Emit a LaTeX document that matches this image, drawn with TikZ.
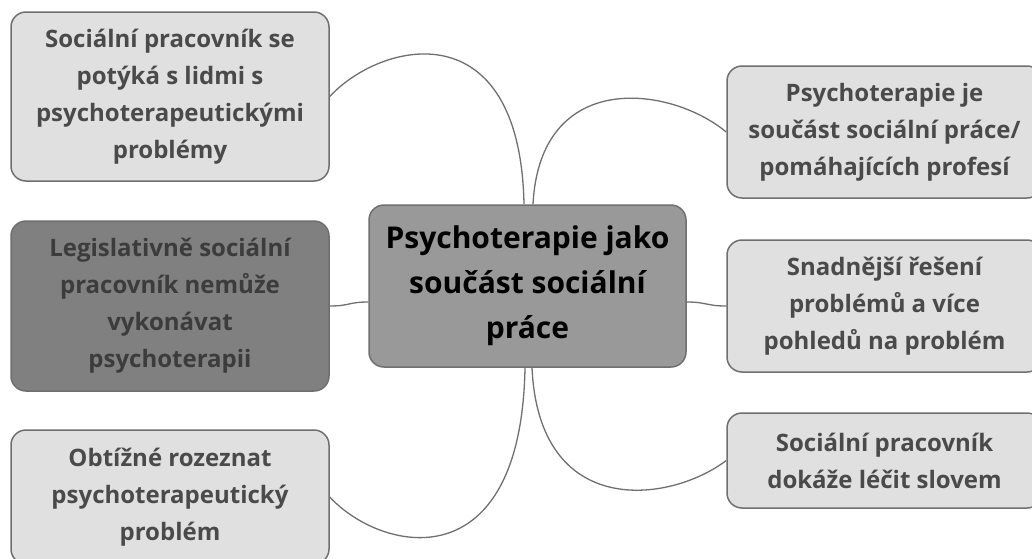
\documentclass[tikz,border=0pt]{standalone}
\usepackage{fontspec}
\setmainfont{Open Sans}
\definecolor{bordc}{HTML}{6F6F6F}
\definecolor{linec}{HTML}{6F6F6F}
\definecolor{lightf}{HTML}{E0E0E0}
\definecolor{darkf}{HTML}{808080}
\definecolor{centf}{HTML}{999999}
\definecolor{txtc}{HTML}{4A4A4A}
\definecolor{darktxt}{HTML}{3C3C3C}
\begin{document}
\begin{tikzpicture}[x=1pt,y=-1pt,
  box/.style={draw=bordc, line width=1.5pt, rounded corners=15pt, fill=lightf, text=txtc,
    align=center, font=\fontsize{24}{37}\selectfont\bfseries, inner sep=0pt},
  darkbox/.style={box, fill=darkf, text=darktxt},
  centbox/.style={box, fill=centf, text=black, font=\fontsize{30}{45}\selectfont\bfseries},
  link/.style={draw=linec, line width=1.3pt}]
\useasboundingbox (0,0) rectangle (1032,558);
\node[box, minimum width=318pt, minimum height=169pt] (a) at (170,96.5)
  {Sociální pracovník se\\potýká s lidmi s\\psychoterapeutickými\\problémy};
\node[darkbox, minimum width=318pt, minimum height=170pt] (b) at (170,306)
  {Legislativně sociální\\pracovník nemůže\\vykonávat\\psychoterapii};
\node[box, minimum width=318pt, minimum height=134pt] (d) at (170,497)
  {Obtížné rozeznat\\psychoterapeutický\\problém};
\node[centbox, minimum width=317pt, minimum height=162pt] (c) at (527.5,286)
  {Psychoterapie jako\\součást sociální\\práce};
\node[box, minimum width=315pt, minimum height=132pt] (r1) at (884.5,132)
  {Psychoterapie je\\součást sociální práce/\\pomáhajících profesí};
\node[box, minimum width=315pt, minimum height=132pt] (r2) at (884.5,306)
  {Snadnější řešení\\problémů a více\\pohledů na problém};
\node[box, minimum width=315pt, minimum height=95pt] (r3) at (884.5,460.5)
  {Sociální pracovník\\dokáže léčit slovem};
% connectors
\coordinate (ct1) at ([xshift=-3.5pt]c.north);
\coordinate (ct2) at ([xshift=5.5pt]c.north);
\coordinate (cb1) at ([xshift=-2.5pt]c.south);
\coordinate (cb2) at ([xshift=4.5pt]c.south);
\coordinate (cw) at ([yshift=-16pt]c.west);
\coordinate (ce) at ([yshift=-16pt]c.east);
\draw[link] (a.east) .. controls +(52,-56) and +(-4,-195) .. (ct1);
\draw[link] (ct2) .. controls +(7,-135) and +(-57,-47) .. (r1.west);
\draw[link] (b.east) .. controls +(20,0) and +(-20,0) .. (cw);
\draw[link] (ce) .. controls +(20,0) and +(-20,0) .. (r2.west);
\draw[link] (d.east) .. controls +(52,56) and +(-4,215) .. (cb1);
\draw[link] (cb2) .. controls +(7,152) and +(-57,43) .. (r3.west);
\end{tikzpicture}
\end{document}
